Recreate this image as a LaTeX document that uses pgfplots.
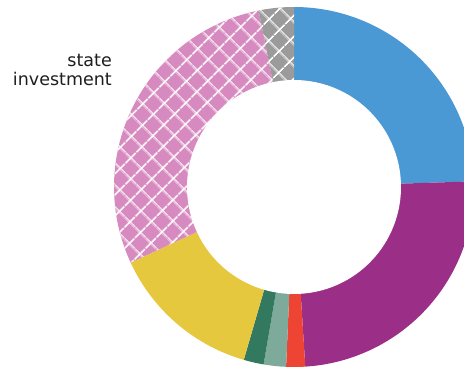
\documentclass[border=0pt]{standalone}
\usepackage{pgfplots}
\pgfplotsset{compat=1.18}
\usetikzlibrary{patterns.meta}
\usepackage{fontspec}
\setmainfont{DejaVu Sans}
\definecolor{cblue}{HTML}{4A98D4}
\definecolor{cpurple}{HTML}{9B2F88}
\definecolor{cred}{HTML}{EE4433}
\definecolor{cteal}{HTML}{7DAA9B}
\definecolor{cdkgreen}{HTML}{33795F}
\definecolor{cyellow}{HTML}{E6C83F}
\definecolor{cpink}{HTML}{D68ABF}
\definecolor{cgrey}{HTML}{9B9B9B}
\definecolor{ctext}{HTML}{1E1E1E}
% shares in percent, clockwise from 12 o'clock
\def\sBlue{24.5}
\def\sPurple{24.5}
\def\sRed{1.7}
\def\sTeal{2.0}
\def\sDkgreen{1.8}
\def\sYellow{13.6}
\def\sPink{28.75}
\def\sGrey{3.15}
\pgfmathsetmacro\aO{90}
\pgfmathsetmacro\aA{\aO-\sBlue*3.6}
\pgfmathsetmacro\aB{\aA-\sPurple*3.6}
\pgfmathsetmacro\aC{\aB-\sRed*3.6}
\pgfmathsetmacro\aD{\aC-\sTeal*3.6}
\pgfmathsetmacro\aE{\aD-\sDkgreen*3.6}
\pgfmathsetmacro\aF{\aE-\sYellow*3.6}
\pgfmathsetmacro\aG{\aF-\sPink*3.6}
\pgfmathsetmacro\aH{\aG-\sGrey*3.6}
\def\R{180}
\def\r{107}
\begin{document}
\begin{tikzpicture}
\path[use as bounding box] (0,0) rectangle (464bp,370bp);
\clip (0,0) rectangle (464bp,370bp);
\begin{axis}[
  at={(0,0)}, anchor=south west,
  x=1bp, y=1bp,
  xmin=-294, xmax=170, ymin=-183, ymax=187,
  hide axis, clip=true,
  every axis plot/.append style={draw=none, samples=90, variable=\t},
]
\addplot[fill=cblue, domain=\aA:\aO] ({\R*cos(\t)},{\R*sin(\t)}) -- (axis cs:0,0) -- cycle;
\addplot[fill=cpurple, domain=\aB:\aA] ({\R*cos(\t)},{\R*sin(\t)}) -- (axis cs:0,0) -- cycle;
\addplot[fill=cred, domain=\aC:\aB, samples=10] ({\R*cos(\t)},{\R*sin(\t)}) -- (axis cs:0,0) -- cycle;
\addplot[fill=cteal, domain=\aD:\aC, samples=10] ({\R*cos(\t)},{\R*sin(\t)}) -- (axis cs:0,0) -- cycle;
\addplot[fill=cdkgreen, domain=\aE:\aD, samples=10] ({\R*cos(\t)},{\R*sin(\t)}) -- (axis cs:0,0) -- cycle;
\addplot[fill=cyellow, domain=\aF:\aE] ({\R*cos(\t)},{\R*sin(\t)}) -- (axis cs:0,0) -- cycle;
\addplot[fill=cpink, domain=\aG:\aF,
  postaction={pattern={Hatch[angle=45,distance=15bp,line width=1.6bp]}, pattern color=white}]
  ({\R*cos(\t)},{\R*sin(\t)}) -- (axis cs:0,0) -- cycle;
\addplot[fill=cgrey, domain=\aH:\aG, samples=20,
  postaction={pattern={Hatch[angle=45,distance=15bp,line width=1.6bp]}, pattern color=white}]
  ({\R*cos(\t)},{\R*sin(\t)}) -- (axis cs:0,0) -- cycle;
\addplot[fill=white, domain=0:360, samples=180] ({\r*cos(\t)},{\r*sin(\t)}) -- cycle;
\end{axis}
\node[anchor=base east, inner sep=0pt, font=\fontsize{17.5bp}{20bp}\selectfont, text=ctext] at (112bp,303bp) {state};
\node[anchor=base east, inner sep=0pt, font=\fontsize{17.5bp}{20bp}\selectfont, text=ctext] at (112bp,284bp) {investment};
\end{tikzpicture}
\end{document}
